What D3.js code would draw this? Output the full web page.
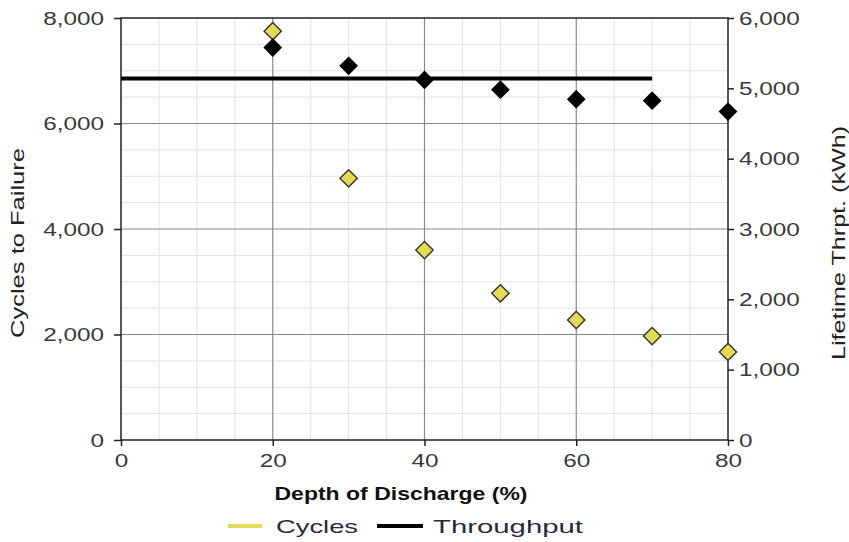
<!DOCTYPE html>
<html>
<head>
<meta charset="utf-8">
<script src="https://cdn.jsdelivr.net/npm/d3@7"></script>
<style>
  html, body { margin: 0; padding: 0; background: #fff; }
  svg { display: block; }
</style>
</head>
<body>
<svg id="chart" width="849" height="542"></svg>
<script>
// ---- data ----
const depthOfDischarge = [20, 30, 40, 50, 60, 70, 80];
const cyclesToFailure = [7750, 4960, 3600, 2780, 2275, 1970, 1670];
const lifetimeThroughput = [5580, 5320, 5120, 4980, 4845, 4825, 4670];
const throughputLineX = [0, 70];
const throughputLineY = [5140, 5140];
const xTicks = [0, 20, 40, 60, 80];
const leftTicks = [0, 2000, 4000, 6000, 8000];
const rightTicks = [0, 1000, 2000, 3000, 4000, 5000, 6000];
const seriesNames = ["Cycles", "Throughput"];

// ---- layout ----
const svg = d3.select("#chart");
const L = 121, R = 728, T = 18, B = 440;
const x = d3.scaleLinear().domain([0, 80]).range([L, R]);
const yL = d3.scaleLinear().domain([0, 8000]).range([B, T]);
const yR = d3.scaleLinear().domain([0, 6000]).range([B, T]);
const font = "'Liberation Sans', Arial, sans-serif";
const yellow = "#e4da55";

// minor grid
const g = svg.append("g");
g.selectAll(".mx").data(d3.range(5, 80, 5).filter(v => v % 20 !== 0)).join("line")
  .attr("x1", d => x(d)).attr("x2", d => x(d)).attr("y1", T).attr("y2", B)
  .attr("stroke", "#e2e2e2").attr("stroke-width", 1);
g.selectAll(".my").data(d3.range(500, 8000, 500).filter(v => v % 2000 !== 0)).join("line")
  .attr("x1", L).attr("x2", R).attr("y1", d => yL(d)).attr("y2", d => yL(d))
  .attr("stroke", "#e2e2e2").attr("stroke-width", 1);
// major grid
g.selectAll(".Mx").data([20, 40, 60]).join("line")
  .attr("x1", d => x(d)).attr("x2", d => x(d)).attr("y1", T).attr("y2", B)
  .attr("stroke", "#8a8a8a").attr("stroke-width", 1.2);
g.selectAll(".My").data([2000, 4000, 6000]).join("line")
  .attr("x1", L).attr("x2", R).attr("y1", d => yL(d)).attr("y2", d => yL(d))
  .attr("stroke", "#8a8a8a").attr("stroke-width", 1.2);

// border
svg.append("rect").attr("x", L).attr("y", T).attr("width", R - L).attr("height", B - T)
  .attr("fill", "none").attr("stroke", "#222").attr("stroke-width", 1.5);

// axes
function styleAxis(sel) {
  sel.select(".domain").remove();
  sel.selectAll(".tick line").attr("stroke", "#222").attr("stroke-width", 1.5);
  sel.selectAll(".tick text").attr("fill", "#3a3a3a").attr("font-family", font).attr("font-size", 19);
}
const fmt = d3.format(",");
const xa = svg.append("g").attr("transform", `translate(0,${B})`)
  .call(d3.axisBottom(x).tickValues(xTicks).tickSize(6).tickPadding(8).tickFormat(d3.format("d")));
styleAxis(xa);
const la = svg.append("g").attr("transform", `translate(${L},0)`)
  .call(d3.axisLeft(yL).tickValues(leftTicks).tickSize(7).tickPadding(10).tickFormat(fmt));
styleAxis(la);
const ra = svg.append("g").attr("transform", `translate(${R},0)`)
  .call(d3.axisRight(yR).tickValues(rightTicks).tickSize(6).tickPadding(5).tickFormat(fmt));
styleAxis(ra);
// widen tick text like reference
svg.selectAll(".tick text").each(function() {
  const len = this.getComputedTextLength();
  d3.select(this).attr("textLength", len * 1.28).attr("lengthAdjust", "spacingAndGlyphs");
});

// throughput line
svg.append("path")
  .datum(throughputLineX.map((v, i) => [v, throughputLineY[i]]))
  .attr("d", d3.line().x(d => x(d[0])).y(d => yR(d[1])))
  .attr("stroke", "#000").attr("stroke-width", 4).attr("fill", "none");

// diamonds
const diamond = d3.symbol().type(d3.symbolSquare).size(150);
svg.append("g").selectAll("path").data(depthOfDischarge).join("path")
  .attr("d", diamond)
  .attr("transform", (d, i) => `translate(${x(d)},${yL(cyclesToFailure[i])}) rotate(45)`)
  .attr("fill", yellow).attr("stroke", "#333").attr("stroke-width", 1.4);
svg.append("g").selectAll("path").data(depthOfDischarge).join("path")
  .attr("d", diamond)
  .attr("transform", (d, i) => `translate(${x(d)},${yR(lifetimeThroughput[i])}) rotate(45)`)
  .attr("fill", "#000").attr("stroke", "#000").attr("stroke-width", 1);

// titles
svg.append("text").text("Depth of Discharge (%)")
  .attr("x", 401).attr("y", 500).attr("text-anchor", "middle")
  .attr("font-family", font).attr("font-weight", "bold").attr("font-size", 19).attr("fill", "#111")
  .attr("textLength", 253).attr("lengthAdjust", "spacingAndGlyphs");
svg.append("text").text("Cycles to Failure")
  .attr("transform", "translate(24,243) rotate(-90)").attr("text-anchor", "middle")
  .attr("font-family", font).attr("font-size", 19).attr("fill", "#222")
  .attr("textLength", 190).attr("lengthAdjust", "spacingAndGlyphs");
svg.append("text").text("Lifetime Thrpt. (kWh)")
  .attr("transform", "translate(845,243) rotate(-90)").attr("text-anchor", "middle")
  .attr("font-family", font).attr("font-size", 19).attr("fill", "#222")
  .attr("textLength", 234).attr("lengthAdjust", "spacingAndGlyphs");

// legend
const legend = [
  { name: seriesNames[0], color: yellow, x1: 228, x2: 262, tx: 276, tl: 82 },
  { name: seriesNames[1], color: "#000", x1: 377, x2: 423, tx: 433, tl: 150 }
];
const lg = svg.append("g");
legend.forEach(d => {
  lg.append("line").attr("x1", d.x1).attr("x2", d.x2).attr("y1", 526).attr("y2", 526)
    .attr("stroke", d.color).attr("stroke-width", 4);
  lg.append("text").text(d.name).attr("x", d.tx).attr("y", 533)
    .attr("font-family", font).attr("font-size", 19).attr("fill", "#2a2a3a")
    .attr("textLength", d.tl).attr("lengthAdjust", "spacingAndGlyphs");
});
</script>
</body>
</html>
